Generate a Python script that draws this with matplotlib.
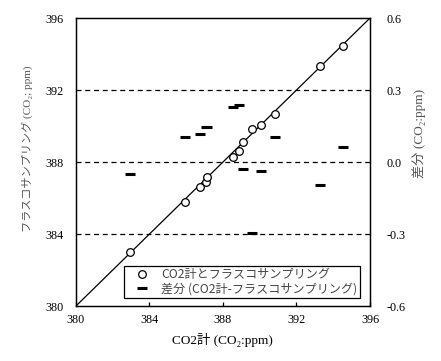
import matplotlib
matplotlib.use("Agg")
import matplotlib.pyplot as plt
from matplotlib.ticker import FormatStrFormatter

plt.rcParams['font.family'] = ['Liberation Serif', 'Noto Sans CJK JP', 'DejaVu Sans']
plt.rcParams['axes.unicode_minus'] = False

# CO2計 vs フラスコサンプリング
co2_meter = [382.94, 385.93, 386.75, 387.07, 387.11, 388.53, 388.89, 389.10,
             389.56, 390.05, 390.83, 393.28, 394.55]
flask = [383.02, 385.80, 386.60, 386.90, 387.19, 388.30, 388.63, 389.10,
         389.85, 390.07, 390.67, 393.33, 394.44]
# 差分 (CO2計-フラスコサンプリング)
diff = [-0.05, 0.105, 0.117, 0.147, 0.145, 0.228, 0.236, -0.03,
        -0.295, -0.036, 0.105, -0.096, 0.064]

xticks = [380, 384, 388, 392, 396]
yticks_right = [-0.6, -0.3, 0.0, 0.3, 0.6]

fig = plt.figure(figsize=(4.41, 3.61), dpi=100)
ax = fig.add_axes([0.172, 0.152, 0.667, 0.798])

# 1:1 line and reference lines
ax.plot([380, 396], [380, 396], color='black', lw=0.9, zorder=2)
for yv in [384, 388, 392]:
    ax.axhline(yv, color='black', lw=0.9, ls=(0, (4, 3)), zorder=1)

h1, = ax.plot(co2_meter, flask, 'o', mfc='white', mec='black', ms=5.5, mew=0.9,
              zorder=3, label='CO2計とフラスコサンプリング')

ax.set_xlim(380, 396)
ax.set_ylim(380, 396)
ax.set_xticks(xticks)
ax.set_yticks(xticks)
ax.tick_params(direction='in', length=3, labelsize=8.7, width=0.9)
ax.tick_params(axis='x', pad=6)
ax.tick_params(axis='y', length=0, pad=9)
for s in ax.spines.values():
    s.set_linewidth(1.0)

ax.set_xlabel('CO2計 (CO₂:ppm)', fontsize=9.5, labelpad=5)
ax.set_ylabel('フラスコサンプリング (CO₂; ppm)', fontsize=8.0, color='#555555')
ax.yaxis.set_label_coords(-0.146, 0.545)

ax2 = ax.twinx()
h2, = ax2.plot(co2_meter, diff, '_', color='black', ms=7, mew=2.2, zorder=3,
               label='差分 (CO2計-フラスコサンプリング)')
ax2.set_ylim(-0.6, 0.6)
ax2.set_yticks(yticks_right)
ax2.yaxis.set_major_formatter(FormatStrFormatter('%.1f'))
ax2.tick_params(axis='y', length=0, labelsize=8.7, pad=12)
ax2.set_ylabel('差分 (CO₂:ppm)', fontsize=9.5, color='#555555', rotation=90)
ax2.yaxis.set_label_coords(1.143, 0.60)

leg = ax2.legend(handles=[h1, h2], loc='lower right', bbox_to_anchor=(0.966, 0.028),
                 fancybox=False, framealpha=1, edgecolor='black',
                 prop={'family': ['Noto Sans CJK JP', 'DejaVu Sans'], 'size': 8.7},
                 handlelength=2.6, handletextpad=0.3, borderpad=0.2, labelspacing=0.1,
                 borderaxespad=0)
leg.get_frame().set_linewidth(0.9)
for t in leg.get_texts():
    t.set_color('#444444')

fig.savefig('out.png', dpi=100)
